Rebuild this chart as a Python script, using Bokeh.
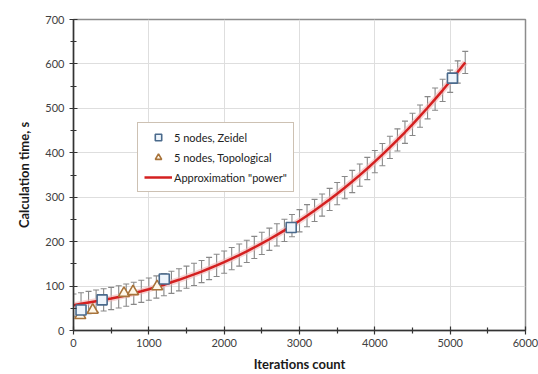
from bokeh.plotting import figure
from bokeh.models import ColumnDataSource, Whisker, TeeHead, Legend, LegendItem, FixedTicker
from bokeh.embed import file_html
from bokeh.resources import INLINE

# ---- data ----
zeidel_x = [100, 380, 1205, 2890, 5030]
zeidel_y = [46, 69, 116, 232, 568]

topo_x = [90, 255, 670, 790, 1110]
topo_y = [34, 46, 84, 88, 99]

approx_x = [0, 100, 200, 300, 400, 500, 600, 700, 800, 900,
            1000, 1100, 1200, 1300, 1400, 1500, 1600, 1700, 1800, 1900,
            2000, 2100, 2200, 2300, 2400, 2500, 2600, 2700, 2800, 2900,
            3000, 3100, 3200, 3300, 3400, 3500, 3600, 3700, 3800, 3900,
            4000, 4100, 4200, 4300, 4400, 4500, 4600, 4700, 4800, 4900,
            5000, 5100, 5200]
approx_y = [57, 60, 63, 66, 69, 72, 75.6, 79.5, 83.7, 88.2,
            93, 97.9, 103.1, 108.5, 114.1, 120, 126.2, 132.7, 139.5, 146.6,
            154, 161.7, 169.8, 178.2, 186.9, 196, 205.4, 215.2, 225.4, 236,
            247, 258.4, 270.2, 282.4, 295, 308, 321.5, 335.4, 349.8, 364.7,
            380, 395.8, 412.1, 428.9, 446.2, 464, 482.4, 501.3, 520.7, 540.6,
            561, 581.9, 603.3]
approx_err = 25

x_ticks = [0, 1000, 2000, 3000, 4000, 5000, 6000]
y_ticks = [0, 100, 200, 300, 400, 500, 600, 700]

FONT = "Lato"

p = figure(width=538, height=374, x_range=(0, 6000), y_range=(0, 700),
           output_backend="svg", toolbar_location=None,
           min_border_left=73, min_border_right=13, min_border_top=19, min_border_bottom=44)

p.outline_line_color = "#8c8c8c"
p.outline_line_width = 1.5
p.background_fill_color = "white"
p.border_fill_color = "white"

p.xgrid.ticker = FixedTicker(ticks=x_ticks)
p.ygrid.ticker = FixedTicker(ticks=y_ticks)
p.grid.grid_line_color = "#dedede"
p.grid.grid_line_width = 1

minor_x = [v + 500 for v in x_ticks[:-1]]
minor_y = [v + 50 for v in y_ticks[:-1]]
p.xaxis.ticker = FixedTicker(ticks=x_ticks, minor_ticks=minor_x)
p.yaxis.ticker = FixedTicker(ticks=y_ticks, minor_ticks=minor_y)

for ax in (p.xaxis, p.yaxis):
    ax.axis_line_color = "#333333"
    ax.axis_line_width = 1.5
    ax.major_tick_line_color = "#333333"
    ax.minor_tick_line_color = "#333333"
    ax.major_tick_line_width = 1.2
    ax.minor_tick_line_width = 1.2
    ax.major_tick_in = 4
    ax.major_tick_out = 4
    ax.minor_tick_in = 3
    ax.minor_tick_out = 3
    ax.major_label_text_font = FONT
    ax.major_label_text_font_size = "11px"
    ax.major_label_text_color = "#404040"
    ax.axis_label_text_font = FONT
    ax.axis_label_text_font_size = "13px"
    ax.axis_label_text_font_style = "bold"
    ax.axis_label_text_color = "#1a1a1a"

p.xaxis.axis_label = "Iterations count"
p.yaxis.axis_label = "Calculation time, s"
p.xaxis.major_label_standoff = 4
p.xaxis.axis_label_standoff = 6
p.yaxis.major_label_standoff = 5
p.yaxis.axis_label_standoff = 10

# error bars around approximation
src = ColumnDataSource(dict(
    x=approx_x, y=approx_y,
    upper=[v + approx_err for v in approx_y],
    lower=[v - approx_err for v in approx_y],
))
wh = Whisker(source=src, base="x", upper="upper", lower="lower",
             line_color="#888888", line_width=1.1,
             upper_head=TeeHead(size=6, line_color="#888888", line_width=1.1),
             lower_head=TeeHead(size=6, line_color="#888888", line_width=1.1))
p.add_layout(wh)

# halo + red approximation curve
p.line(approx_x, approx_y, line_color="#f2b5b5", line_width=6, line_alpha=0.6)
r_line = p.line(approx_x, approx_y, line_color="#d42020", line_width=2.5)

r_tri = p.scatter(topo_x, topo_y, marker="triangle", size=11,
                  fill_color="#fff8ea", line_color="#a8733a", line_width=1.6)
r_sq = p.scatter(zeidel_x, zeidel_y, marker="square", size=10,
                 fill_color="#eef5fc", line_color="#4a6a8c", line_width=1.6)

legend = Legend(items=[
    LegendItem(label="5 nodes, Zeidel", renderers=[r_sq]),
    LegendItem(label="5 nodes, Topological", renderers=[r_tri]),
    LegendItem(label="Approximation \"power\"", renderers=[r_line]),
], location=(64, 138))
legend.label_text_font = FONT
legend.label_text_font_size = "11px"
legend.label_text_color = "#222222"
legend.border_line_color = "#9c8468"
legend.border_line_width = 1.5
legend.background_fill_color = "white"
legend.background_fill_alpha = 1.0
legend.glyph_width = 28
legend.glyph_height = 16
legend.label_standoff = 2
legend.spacing = 4
legend.padding = 6
legend.margin = 0
p.add_layout(legend)

open("out.html", "w").write(file_html(p, INLINE))
